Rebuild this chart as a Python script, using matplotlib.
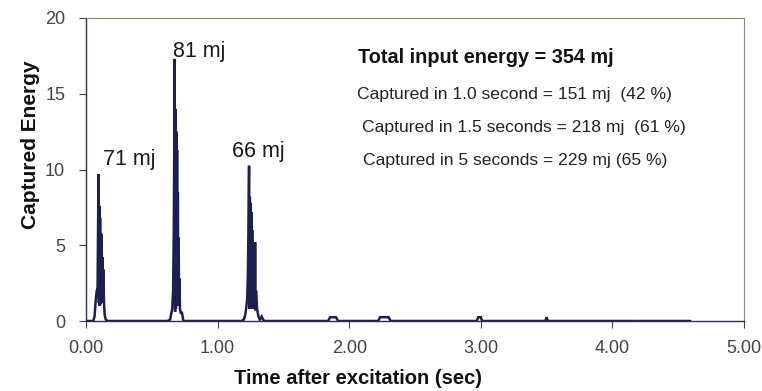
import numpy as np
import matplotlib
matplotlib.use("Agg")
import matplotlib.pyplot as plt

plt.rcParams['font.family'] = ['Liberation Sans Narrow', 'Liberation Sans', 'DejaVu Sans']

# captured energy trace (time in s)
time_sec = [0.00, 0.055, 0.065, 0.075, 0.082, 0.088, 0.092, 0.095, 0.098, 0.101,
            0.104, 0.107, 0.110, 0.113, 0.116, 0.119, 0.122, 0.125, 0.128, 0.131,
            0.134, 0.138, 0.142, 0.150, 0.165,
            0.620, 0.640, 0.648, 0.655, 0.662, 0.667, 0.671, 0.674, 0.677, 0.680,
            0.683, 0.686, 0.689, 0.692, 0.695, 0.698, 0.701, 0.704, 0.707, 0.710,
            0.714, 0.720, 0.728, 0.740,
            1.180, 1.200, 1.210, 1.218, 1.225, 1.230, 1.235, 1.239, 1.242, 1.245,
            1.248, 1.251, 1.254, 1.257, 1.260, 1.263, 1.266, 1.270, 1.274, 1.278,
            1.282, 1.285, 1.288, 1.292, 1.300, 1.310, 1.320, 1.335, 1.345, 1.355,
            1.840, 1.855, 1.900, 1.915,
            2.220, 2.235, 2.300, 2.315,
            2.970, 2.980, 3.000, 3.010,
            3.490, 3.500, 3.510,
            4.150, 4.160, 4.170, 4.590]
energy = [0.0, 0.0, 0.3, 1.5, 2.0, 2.2, 6.5, 9.7, 1.2, 7.6,
          1.0, 6.8, 1.1, 5.8, 1.2, 5.7, 1.5, 4.2, 1.8, 3.4,
          2.0, 1.0, 0.4, 0.1, 0.0,
          0.0, 0.1, 0.5, 0.8, 2.0, 6.0, 12.0, 17.3, 0.6, 14.0,
          0.8, 12.5, 1.0, 11.3, 1.2, 8.5, 1.5, 5.5, 1.0, 2.8,
          0.8, 0.5, 0.6, 0.0,
          0.0, 0.1, 0.4, 0.9, 1.5, 3.0, 6.5, 10.25, 0.8, 8.2,
          0.8, 7.8, 0.8, 7.2, 0.9, 6.0, 0.9, 5.0, 0.8, 4.0,
          0.8, 5.2, 0.7, 2.0, 0.8, 0.3, 0.1, 0.3, 0.1, 0.0,
          0.0, 0.25, 0.25, 0.0,
          0.0, 0.25, 0.25, 0.0,
          0.0, 0.25, 0.25, 0.0,
          0.0, 0.25, 0.0,
          0.0, np.nan, 0.0, 0.0]

peak_labels = ["71 mj", "81 mj", "66 mj"]
peak_pos = [(0.13, 10.3), (0.66, 17.4), (1.11, 10.8)]

summary_title = "Total input energy = 354 mj"
summary_lines = ["Captured in 1.0 second = 151 mj  (42 %)",
                 "Captured in 1.5 seconds = 218 mj  (61 %)",
                 "Captured in 5 seconds = 229 mj (65 %)"]
summary_pos = [(2.06, 14.65), (2.097, 12.47), (2.105, 10.3)]

x_ticks = [0, 1, 2, 3, 4, 5]
y_ticks = [0, 5, 10, 15, 20]

fig = plt.figure(figsize=(7.62, 3.91), dpi=100)
ax = fig.add_axes([86/762, 1 - 321/391, (744-86)/762, (321-18)/391])

line_col = '#1c1f4f'
ax.plot(time_sec, energy, color=line_col, lw=1.8, solid_joinstyle='miter')

ax.set_xlim(0, 5)
ax.set_ylim(0, 20)
ax.set_xticks(x_ticks)
ax.set_xticklabels(["%.2f" % v for v in x_ticks])
ax.set_yticks(y_ticks)
ax.tick_params(direction='out', length=5, width=0.8, colors='#444444',
               labelsize=13)
ax.tick_params(axis='y', pad=10)
ax.tick_params(axis='x', pad=9)

for s in ['left', 'bottom']:
    ax.spines[s].set_color('#2a2d55')
    ax.spines[s].set_linewidth(1.0)
ax.spines['top'].set_color('#8a8a60')
ax.spines['top'].set_linewidth(0.8)
ax.spines['right'].set_color('#888888')
ax.spines['right'].set_linewidth(0.8)

for lab, (x, y) in zip(peak_labels, peak_pos):
    ax.text(x, y, lab, fontsize=15.5, color='#1a1a1a', va='baseline', ha='left')

ax.text(2.067, 17.03, summary_title, fontsize=14.3, fontweight='bold',
        color='#111111', va='baseline', ha='left')
for lab, (x, y) in zip(summary_lines, summary_pos):
    ax.text(x, y, lab, fontsize=12.6, color='#222222', va='baseline', ha='left')

fig.text(31/762, 1 - 145/391, "Captured Energy", rotation=90, fontsize=15,
         fontweight='bold', ha='center', va='center', color='#111111')
fig.text(358/762, 1 - 378/391, "Time after excitation (sec)", fontsize=14.5,
         fontweight='bold', ha='center', va='center', color='#111111')

fig.savefig('out.png', dpi=100)
